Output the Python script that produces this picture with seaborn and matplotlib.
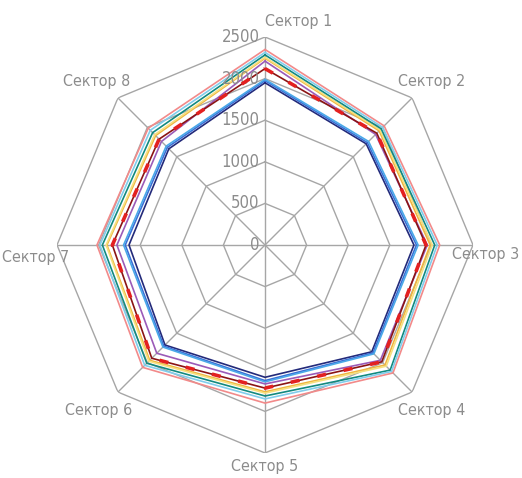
import numpy as np
import pandas as pd
import seaborn as sns
import matplotlib.pyplot as plt

# sectors and radial ticks
sectors = ["Сектор 1", "Сектор 2", "Сектор 3", "Сектор 4",
           "Сектор 5", "Сектор 6", "Сектор 7", "Сектор 8"]
rticks = [0, 500, 1000, 1500, 2000, 2500]

# series values, one per sector
navy = [1950, 1720, 1790, 1815, 1590, 1700, 1635, 1635]
blue = [1975, 1740, 1820, 1835, 1630, 1720, 1680, 1660]
sky = [1990, 1760, 1840, 1850, 1645, 1735, 1700, 1680]
purple = [2210, 1880, 1950, 1960, 1670, 1840, 1780, 1760]
darkred = [2120, 1900, 1935, 1985, 1720, 1925, 1835, 1800]
gold = [2245, 1940, 1985, 2040, 1765, 1960, 1900, 1860]
lightyellow = [2255, 1955, 2010, 2060, 1780, 1975, 1910, 1875]
teal = [2285, 1975, 2040, 2127, 1815, 2010, 1955, 1910]
lightblue = [2315, 2000, 2070, 2150, 1850, 2045, 1985, 1950]
pink = [2350, 2025, 2100, 2175, 1900, 2080, 2020, 1985]

series = {
    "navy": navy, "blue": blue, "sky": sky, "purple": purple,
    "darkred": darkred, "gold": gold, "lightyellow": lightyellow,
    "teal": teal, "lightblue": lightblue, "pink": pink,
}
palette = {
    "navy": "#232a7a", "blue": "#3b6fd6", "sky": "#4aa8e8",
    "purple": "#9b5bb8", "darkred": "#8b1414", "gold": "#f0b440",
    "lightyellow": "#f5e07e", "teal": "#12897f", "lightblue": "#80cdec",
    "pink": "#f28a8a",
}

n = len(sectors)
theta = np.linspace(0, 2 * np.pi, n, endpoint=False)
theta_closed = np.append(theta, 2 * np.pi)

rows = []
for name, vals in series.items():
    for t, v in zip(theta_closed, vals + vals[:1]):
        rows.append({"theta": t, "value": v, "series": name})
df = pd.DataFrame(rows)

sns.set_theme(style="white")
plt.rcParams['font.family'] = ['DejaVu Sans']
plt.rcParams['font.stretch'] = 'condensed'

fig = plt.figure(figsize=(5.22, 4.78), dpi=100)
ax = fig.add_axes([0.1092, 0.0523, 0.797, 0.8703], projection="polar")
ax.set_theta_zero_location("N")
ax.set_theta_direction(-1)
ax.set_ylim(0, 2500)
ax.grid(False)
ax.spines["polar"].set_visible(False)
ax.set_xticks([])
ax.set_yticks([])

grid_col = "#a6a6a6"
# octagonal grid
for r in rticks[1:]:
    ax.plot(theta_closed, [r] * (n + 1), color=grid_col, lw=1, zorder=1)
for t in theta:
    ax.plot([t, t], [0, 2500], color=grid_col, lw=1, zorder=1)

sns.lineplot(data=df, x="theta", y="value", hue="series", palette=palette,
             hue_order=list(series.keys()), sort=False, estimator=None,
             lw=1.2, legend=False, ax=ax, zorder=3)
# red dashes over the dark red line
ax.plot(theta_closed, darkred + darkred[:1], color="#e32020", lw=2.6,
        dashes=(2.5, 5), zorder=4)

ax.set_xlabel("")
ax.set_ylabel("")

txt_col = "#8c8c8c"
for r in rticks:
    ax.annotate(str(r), xy=(0, r), xytext=(-4, 0), textcoords="offset points",
                ha="right", va="center", fontsize=12, color=txt_col,
                fontstretch="condensed")

offsets = [(0, 11, "left"), (-10, 12, "left"), (-15, -7, "left"),
           (-10, -13, "left"), (0, -10, "center"), (10, -13, "right"),
           (9, -9, "right"), (9, 12, "right")]
for t, lab, (dx, dy, ha) in zip(theta, sectors, offsets):
    ax.annotate(lab, xy=(t, 2500), xytext=(dx, dy), textcoords="offset points",
                ha=ha, va="center", fontsize=11.5, color=txt_col,
                fontstretch="condensed")

fig.savefig("out.png", dpi=100)
